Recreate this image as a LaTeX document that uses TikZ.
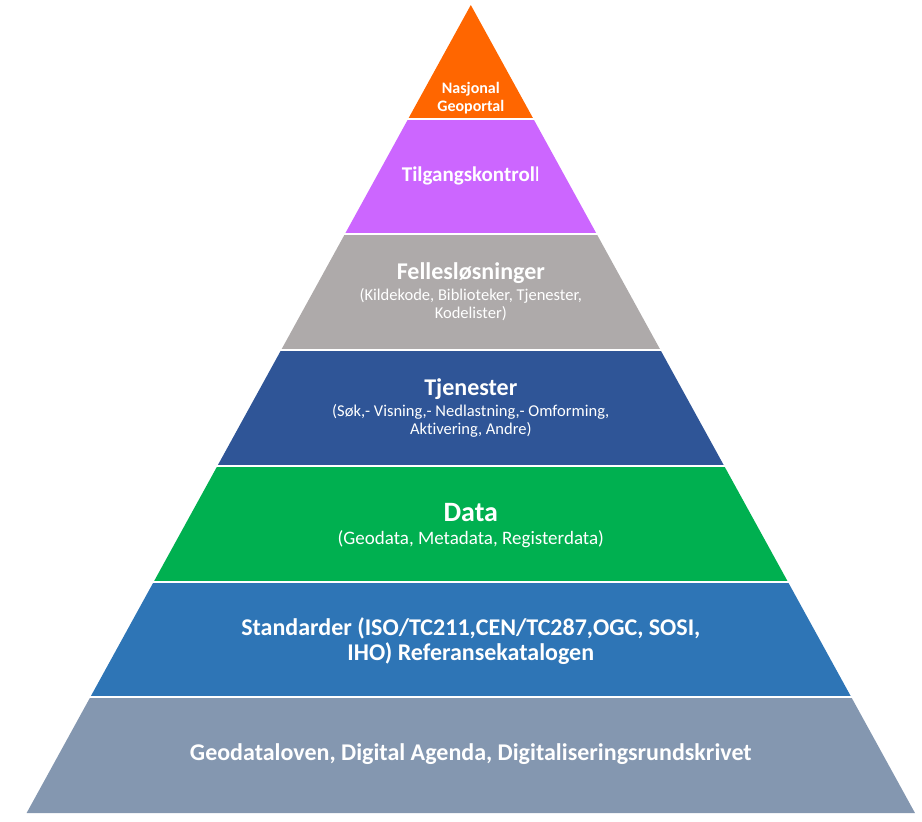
\documentclass[tikz,border=0pt]{standalone}
\usepackage{fontspec}
\setmainfont{Carlito}[Ligatures=NoCommon]
\definecolor{orng}{HTML}{FF6600}
\definecolor{purp}{HTML}{CC66FF}
\definecolor{grey}{HTML}{AEAAAA}
\definecolor{dblue}{HTML}{2F5597}
\definecolor{green}{HTML}{00B050}
\definecolor{mblue}{HTML}{2E75B6}
\definecolor{slate}{HTML}{8497B0}
\tikzset{
  lbl/.style={text=white, align=center, inner sep=0pt},
  ttl/.style={lbl, font=\bfseries\fontsize{24}{25}\selectfont},
  sub/.style={lbl, font=\fontsize{16.5}{18}\selectfont},
  gap/.style={white, line width=2pt}
}
\begin{document}
\begin{tikzpicture}[x=1pt,y=-1pt]
\useasboundingbox (0,0) rectangle (922,822);
\def\ax{470.8}
\def\s{0.54975}
\foreach \t/\b/\c in {5/118.5/orng, 118.5/234.25/purp, 234.25/350/grey, 350/465.75/dblue, 465.75/581.5/green, 581.5/697.25/mblue, 697.25/813/slate}{
  \fill[\c] ({\ax-(\t-5)*\s},\t) -- ({\ax+(\t-5)*\s},\t) -- ({\ax+(\b-5)*\s},\b) -- ({\ax-(\b-5)*\s},\b) -- cycle;
}
\foreach \y in {118.5, 234.25, 350, 465.75, 581.5, 697.25}{
  \draw[gap] (0,\y) -- (922,\y);
}
\node[lbl, font=\bfseries\fontsize{16}{18}\selectfont] (geo) at (\ax,98) {Nasjonal\\Geoportal};
\node[lbl, font=\bfseries\fontsize{21}{24}\selectfont] (tilg) at (\ax,176) {Tilgangskontrol{\mdseries l}};
\node[ttl] (fell) at (\ax,273) {Fellesløsninger};
\node[sub] (fellsub) at (\ax,305) {(Kildekode, Biblioteker, Tjenester,\\Kodelister)};
\node[ttl] (tjen) at (\ax,389) {Tjenester};
\node[sub] (tjensub) at (\ax,421) {(Søk,- Visning,- Nedlastning,- Omforming,\\Aktivering, Andre)};
\node[lbl, font=\bfseries\fontsize{28}{30}\selectfont] (data) at (\ax,513) {Data};
\node[lbl, font=\fontsize{19}{20}\selectfont] (datasub) at (\ax,539) {(Geodata, Metadata, Registerdata)};
\node[ttl] (std) at (\ax,641) {Standarder (ISO/TC211,CEN/TC287,OGC, SOSI,\\IHO) Referansekatalogen};
\node[ttl] (lov) at (\ax,754) {Geodataloven, Digital Agenda, Digitaliseringsrundskrivet};
\end{tikzpicture}
\end{document}
